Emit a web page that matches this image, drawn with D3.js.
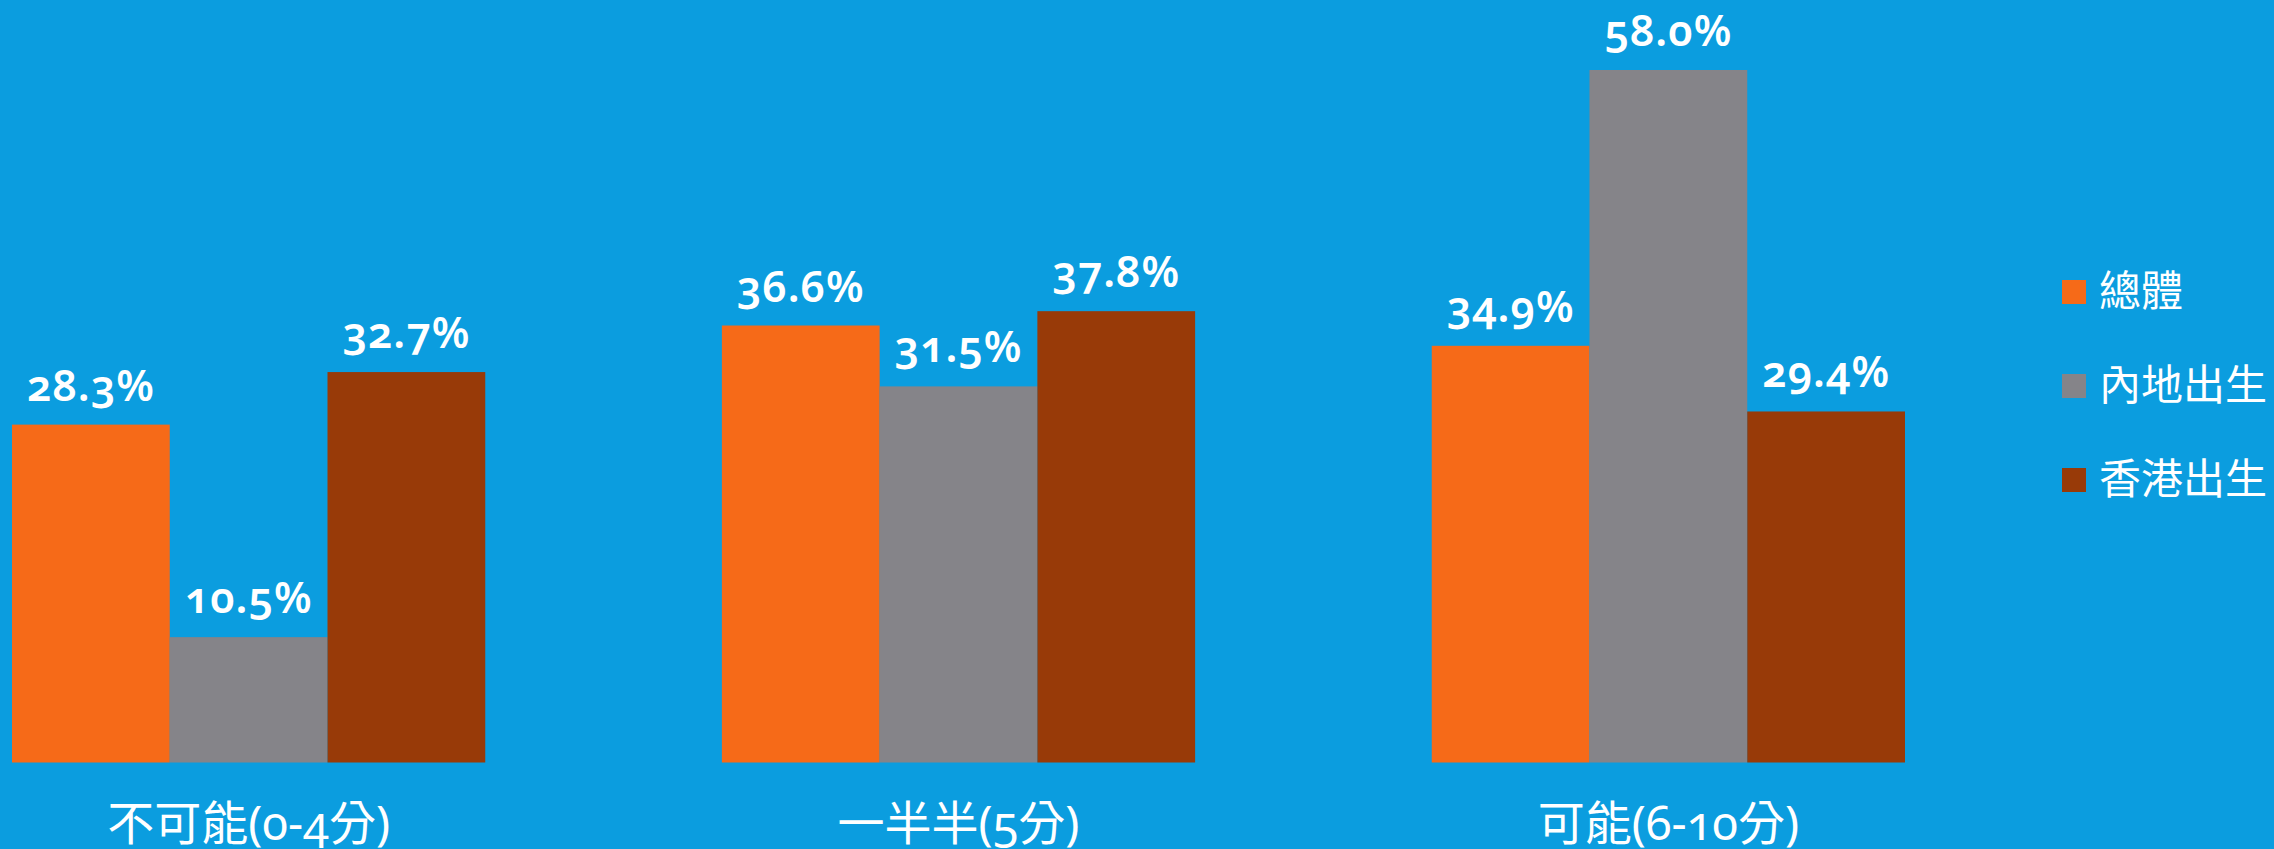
<!DOCTYPE html>
<html>
<head>
<meta charset="utf-8">
<script src="https://cdn.jsdelivr.net/npm/d3@7"></script>
<style>
  body { margin: 0; background: #0b9ddf; overflow: hidden; }
  text { font-family: "Noto Sans", "Noto Sans CJK TC", sans-serif; fill: #fff; font-variant-numeric: oldstyle-nums; }
  .value { font-size: 43px; font-weight: 600; letter-spacing: 1px; }
  .cat { font-size: 47px; }
  .legend { font-size: 42px; }
</style>
</head>
<body>
<div id="chart"></div>
<script>
const categories = ["不可能(0-4分)", "一半半(5分)", "可能(6-10分)"];
const seriesNames = ["總體", "內地出生", "香港出生"];
const overall = [28.3, 36.6, 34.9];
const mainland = [10.5, 31.5, 58.0];
const hongkong = [32.7, 37.8, 29.4];
const colors = ["#f66a18", "#858489", "#983a08"];

let w = 2274;
let h = 849;
let marginLeft = 12;
let plotRight = 1905;
let marginTop = 70;
let baseline = 762.5;

const seriesValues = [overall, mainland, hongkong];
const rows = [];
categories.forEach(function (c, i) {
  seriesNames.forEach(function (s, j) {
    rows.push({ category: c, series: s, value: seriesValues[j][i] });
  });
});

const maxValue = d3.max(rows, function (d) { return d.value; });

let x0 = d3.scaleBand()
  .domain(categories)
  .range([marginLeft, plotRight])
  .paddingInner(1 / 3)
  .paddingOuter(0);

let x1 = d3.scaleBand()
  .domain(seriesNames)
  .range([0, x0.bandwidth()]);

let y = d3.scaleLinear()
  .domain([0, maxValue])
  .range([baseline, marginTop]);

let color = d3.scaleOrdinal().domain(seriesNames).range(colors);

let svg = d3.select("#chart")
  .append("svg")
  .attr("width", w)
  .attr("height", h);

svg.append("rect")
  .attr("width", w)
  .attr("height", h)
  .attr("fill", "#0b9ddf");

let bars = svg.append("g");

bars.selectAll("rect")
  .data(rows)
  .enter()
  .append("rect")
  .attr("x", function (d) { return x0(d.category) + x1(d.series); })
  .attr("y", function (d) { return y(d.value); })
  .attr("width", x1.bandwidth())
  .attr("height", function (d) { return y(0) - y(d.value); })
  .attr("fill", function (d) { return color(d.series); });

// value labels above each bar
bars.selectAll("text")
  .data(rows)
  .enter()
  .append("text")
  .attr("class", "value")
  .attr("text-anchor", "middle")
  .attr("x", function (d) { return x0(d.category) + x1(d.series) + x1.bandwidth() / 2; })
  .attr("y", function (d) { return y(d.value) - 24; })
  .text(function (d) { return d3.format(".1f")(d.value) + "%"; });

svg.append("g")
  .selectAll("text")
  .data(categories)
  .enter()
  .append("text")
  .attr("class", "cat")
  .attr("text-anchor", "middle")
  .attr("x", function (d) { return x0(d) + x0.bandwidth() / 2; })
  .attr("y", 840)
  .text(function (d) { return d; });

let legend = svg.append("g")
  .selectAll("g")
  .data(seriesNames)
  .enter()
  .append("g")
  .attr("transform", function (d, i) { return `translate(2062,${280 + i * 94})`; });

legend.append("rect")
  .attr("width", 24)
  .attr("height", 24)
  .attr("fill", function (d) { return color(d); });

legend.append("text")
  .attr("class", "legend")
  .attr("x", 37)
  .attr("y", 26)
  .text(function (d) { return d; });
</script>
</body>
</html>
